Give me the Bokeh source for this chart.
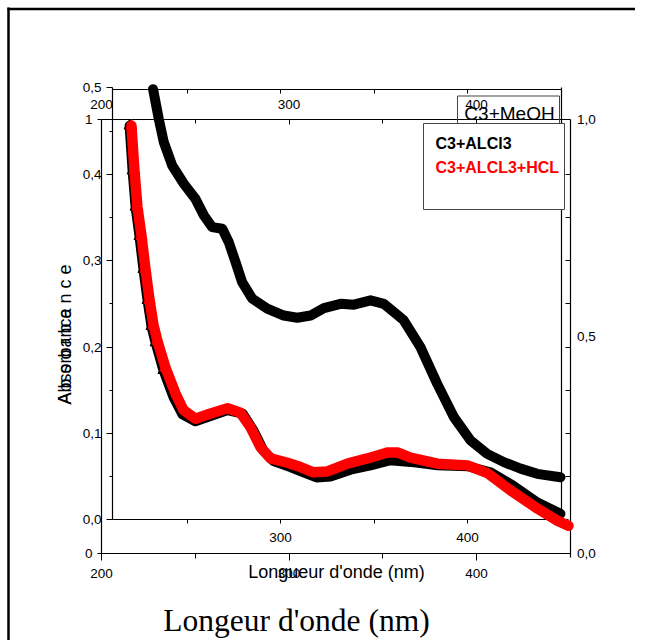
from math import pi
from bokeh.plotting import figure
from bokeh.models import Range1d, LinearAxis, FixedTicker, Label, BoxAnnotation, CustomJSTickFormatter
from bokeh.embed import file_html
from bokeh.resources import INLINE

# ---- data ----
# C3+MeOH (outer layer, right-hand axis 0..1)
meoh_nm = [227.5, 230.6, 233.2, 237.7, 243.9, 250.1, 254.6, 259.0, 264.4, 267.9, 271.5, 275.0,
           280.4, 288.4, 297.2, 304.4, 311.5, 318.6, 327.5, 334.6, 343.5, 350.6, 356.0, 361.2,
           370.1, 379.0, 387.9, 396.8, 405.7, 414.6, 423.5, 432.4, 444.8]
meoh_abs = [1.07, 1.00, 0.948, 0.894, 0.852, 0.817, 0.779, 0.752, 0.748, 0.717, 0.671, 0.625,
            0.587, 0.564, 0.548, 0.543, 0.548, 0.565, 0.575, 0.573, 0.583, 0.575, 0.556, 0.537,
            0.475, 0.391, 0.314, 0.260, 0.229, 0.210, 0.195, 0.183, 0.175]

# C3+ALCl3 (inner layer, left axis 0..0.5)
alcl3_nm = [219.3, 220.9, 222.5, 224.6, 226.7, 228.9, 231.0, 233.2, 237.4, 242.8, 247.6, 254.5,
            262.6, 271.7, 279.7, 285.6, 290.9, 296.3, 305.3, 312.3, 319.3, 326.7, 337.4, 348.1,
            358.8, 369.5, 384.0, 400.0, 412.3, 424.1, 437.4, 449.7]
alcl3_abs = [0.456, 0.404, 0.362, 0.328, 0.290, 0.254, 0.224, 0.205, 0.173, 0.142, 0.122, 0.114,
             0.120, 0.127, 0.123, 0.103, 0.080, 0.068, 0.061, 0.055, 0.049, 0.050, 0.058, 0.063,
             0.069, 0.067, 0.063, 0.062, 0.055, 0.040, 0.020, 0.007]

# C3+ALCL3+HCL (inner layer)
hcl_nm = [220.3, 221.9, 223.5, 225.7, 227.8, 230.0, 232.1, 234.2, 238.5, 243.9, 248.1, 254.5,
          262.6, 271.7, 278.6, 284.0, 289.3, 294.7, 303.7, 310.7, 317.6, 325.1, 335.8, 346.5,
          357.2, 362.5, 369.5, 384.0, 400.0, 410.7, 423.0, 437.4, 448.1, 454.0]
hcl_abs = [0.456, 0.404, 0.362, 0.328, 0.290, 0.254, 0.225, 0.207, 0.176, 0.146, 0.127, 0.117,
           0.123, 0.129, 0.124, 0.107, 0.084, 0.071, 0.066, 0.061, 0.055, 0.056, 0.065, 0.071,
           0.078, 0.078, 0.072, 0.065, 0.063, 0.054, 0.034, 0.013, -0.001, -0.007]

inner_y_ticks = [0.0, 0.1, 0.2, 0.3, 0.4, 0.5]
inner_y_minor = [0.05, 0.15, 0.25, 0.35, 0.45]
outer_left_ticks = [0, 1]
outer_right_ticks = [0.0, 0.5, 1.0]
x_ticks = [200, 300, 400]
x_minor = [250, 350]
inner_x_ticks = [300, 400]

SANS = "'Liberation Sans', Arial, sans-serif"
SERIF = "'Liberation Serif', 'Times New Roman', serif"

W, H = 635, 640


def span(v0, px0, v1, px1, lo, hi):
    """range whose values v0, v1 fall at pixels px0, px1 of a frame spanning lo..hi"""
    k = (v1 - v0) / (px1 - px0)
    return Range1d(v0 + (lo - px0) * k, v0 + (hi - px0) * k)


# page pixel coordinates (canvas = frame)
p = figure(width=W, height=H, x_range=Range1d(0, W), y_range=Range1d(H, 0),
           x_axis_type=None, y_axis_type=None, toolbar_location=None,
           output_backend="svg", min_border=0, outline_line_color=None,
           background_fill_color="white", border_fill_color="white")

p.extra_x_ranges = {"ox": span(200, 101, 400, 476, 0, W), "ix": span(300, 280, 400, 467, 0, W)}
p.extra_y_ranges = {"oy": span(0, 552.7, 1, 119, H, 0), "iy": span(0, 519.3, 0.5, 87.3, H, 0)}

comma1 = CustomJSTickFormatter(code="return tick.toFixed(1).replace('.', ',')")
comma0 = CustomJSTickFormatter(code="return tick.toFixed(0)")


def add_axis(side, rname, loc, ticks, minor=(), fmt=None, bounds=None, tin=0, tout=0,
             min_in=0, min_out=0, standoff=5, line=True):
    ax = LinearAxis(fixed_location=loc, ticker=FixedTicker(ticks=list(ticks), minor_ticks=list(minor)))
    if side in ("left", "right"):
        ax.y_range_name = rname
    else:
        ax.x_range_name = rname
    if fmt is not None:
        ax.formatter = fmt
    if bounds is not None:
        ax.bounds = bounds
    ax.major_tick_in = tin
    ax.major_tick_out = tout
    ax.minor_tick_in = min_in
    ax.minor_tick_out = min_out
    ax.major_tick_line_color = "black"
    ax.minor_tick_line_color = "black"
    ax.axis_line_color = "black" if line else None
    ax.axis_line_width = 1.2
    ax.major_label_standoff = standoff
    ax.major_label_text_font = SANS
    ax.major_label_text_font_size = "13.5px"
    ax.major_label_text_color = "black"
    ax.level = "underlay"
    p.add_layout(ax, side)
    return ax


# outer layer axes
add_axis("left", "oy", 101, outer_left_ticks, fmt=comma0, bounds=(0, 1), tout=4, standoff=5)
add_axis("right", "oy", 569.5, outer_right_ticks, fmt=comma1, bounds=(-0.01, 1), standoff=7)
add_axis("below", "ox", 552.7, x_ticks, x_minor, bounds=(200, 450), tout=7, min_out=5, standoff=9)
add_axis("above", "ox", 119, x_ticks, x_minor, bounds=(200, 450), tin=5, min_in=4, standoff=11)
# inner layer axes
add_axis("left", "iy", 112, inner_y_ticks, inner_y_minor, fmt=comma1, bounds=(0, 0.5),
         tout=6, min_out=3, standoff=5)
add_axis("right", "iy", 569.5, [], inner_y_ticks[1:5] + inner_y_minor[:4], min_in=5, line=False)
add_axis("right", "iy", 561, [], [], bounds=(0, 0.5))
add_axis("above", "ix", 88.5, [], x_minor + inner_x_ticks, bounds=(210, 450), min_in=4)
add_axis("below", "ix", 519.3, inner_x_ticks, x_minor, bounds=(210, 454), tout=4, min_out=4, standoff=9)

# curves
p.line(meoh_nm, meoh_abs, x_range_name="ox", y_range_name="oy", line_width=10,
       line_color="black", line_join="round", line_cap="round")
p.line(alcl3_nm, alcl3_abs, x_range_name="ix", y_range_name="iy", line_width=10,
       line_color="black", line_join="round", line_cap="round")
p.scatter(alcl3_nm[:9], alcl3_abs[:9], x_range_name="ix", y_range_name="iy", marker="triangle",
          size=11, color="black")
p.line(hcl_nm, hcl_abs, x_range_name="ix", y_range_name="iy", line_width=10.5,
       line_color="#ff0000", line_join="round", line_cap="round")
p.scatter(hcl_nm[:9], hcl_abs[:9], x_range_name="ix", y_range_name="iy", marker="triangle",
          size=11, color="#ff0000")

# page border (top and left edges visible)
p.segment(x0=[7, 8], y0=[8.5, 7], x1=[W, 8], y1=[8.5, H], line_width=2.5, line_color="black")

# legends
p.add_layout(BoxAnnotation(left=457, right=559, top=95.5, bottom=140, fill_color=None,
                           line_color="#444444", line_alpha=1, line_width=1))
p.add_layout(Label(x=509, y=113, text="C3+MeOH", text_font=SANS, text_font_size="19px",
                   text_align="center", text_baseline="middle", text_color="black"))
p.add_layout(BoxAnnotation(left=423, right=564, top=123, bottom=209, fill_color="white",
                           fill_alpha=1, line_color="#444444", line_alpha=1, line_width=1))
p.add_layout(Label(x=435, y=142.5, text="C3+ALCl3", text_font=SANS, text_font_size="16px",
                   text_font_style="bold", text_baseline="middle", text_color="black"))
p.add_layout(Label(x=435, y=166.7, text="C3+ALCL3+HCL", text_font=SANS, text_font_size="16px",
                   text_font_style="bold", text_baseline="middle", text_color="#ff0000"))

# axis titles
p.add_layout(Label(x=336, y=571, text="Longueur d'onde (nm)", text_font=SANS,
                   text_font_size="18px", text_align="center", text_baseline="middle",
                   text_color="black"))
p.add_layout(Label(x=296, y=620, text="Longeur d'onde (nm)", text_font=SERIF,
                   text_font_size="31.5px", text_align="center", text_baseline="middle",
                   text_color="black"))
p.add_layout(Label(x=64, y=404, text="Absorbance", angle=pi / 2, text_font=SANS,
                   text_font_size="18px", text_align="left", text_baseline="middle",
                   text_color="black"))
p.add_layout(Label(x=64, y=404, text="A b s o r b a n c e", angle=pi / 2, text_font=SANS,
                   text_font_size="18px", text_align="left", text_baseline="middle",
                   text_color="black"))

open("out.html", "w").write(file_html(p, INLINE))
